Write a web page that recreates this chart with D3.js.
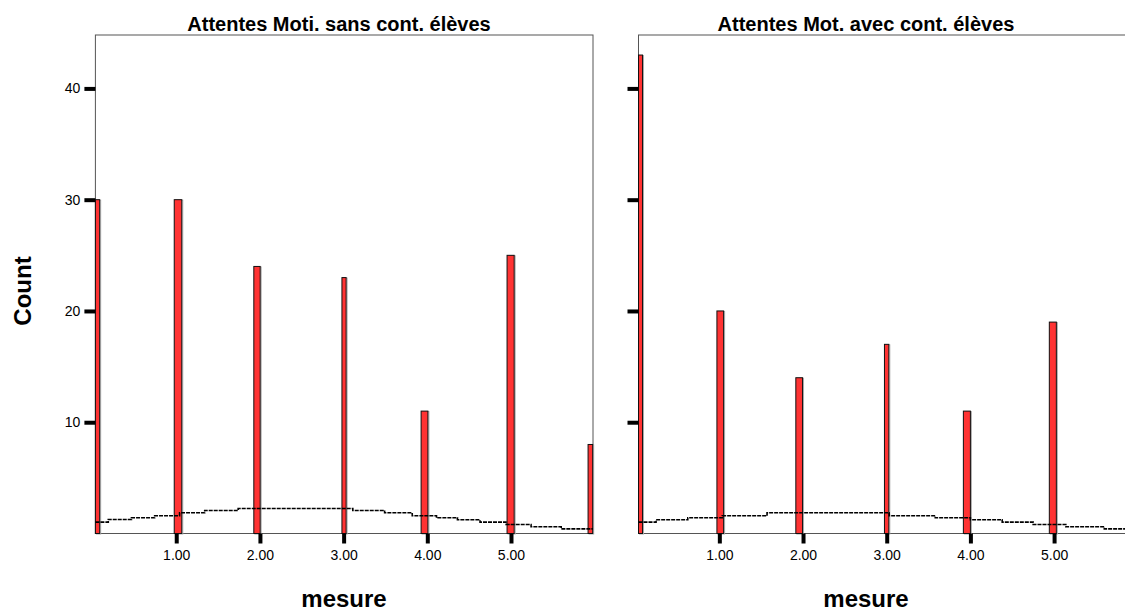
<!DOCTYPE html>
<html>
<head>
<meta charset="utf-8">
<script src="https://cdn.jsdelivr.net/npm/d3@7"></script>
<style>
  html, body { margin: 0; padding: 0; background: #fff; }
  svg { display: block; font-family: "Liberation Sans", Arial, sans-serif; }
</style>
</head>
<body>
<svg id="chart" width="1125" height="612"></svg>
<script>
// ---- data ----
const panelTitles = ["Attentes Moti. sans cont. élèves", "Attentes Mot. avec cont. élèves"];
const xTickValues = [1, 2, 3, 4, 5];
const yTickValues = [10, 20, 30, 40];
const xDomain = [0.034, 5.98];
const yDomain = [0, 44.8];

// histogram bins (start, end) and counts
const leftBinStart = [0.034, 0.976, 1.927, 2.980, 3.926, 4.953, 5.921];
const leftBinEnd   = [0.085, 1.066, 2.003, 3.030, 4.007, 5.038, 5.976];
const leftCounts   = [30, 30, 24, 23, 11, 25, 8];

const rightBinStart = [0.034, 0.971, 1.914, 2.973, 3.916, 4.943];
const rightBinEnd   = [0.082, 1.051, 1.994, 3.025, 4.000, 5.027];
const rightCounts   = [43, 20, 14, 17, 11, 19];

// normal curve (as drawn, step-like)
const leftCurveX = [0.034, 0.188, 0.465, 0.742, 1.04, 1.34, 1.74, 3.11, 3.49, 3.82, 4.11, 4.36, 4.63, 4.94, 5.24, 5.60, 5.98];
const leftCurveY = [1.02, 1.26, 1.41, 1.59, 1.86, 2.07, 2.25, 2.07, 1.86, 1.59, 1.41, 1.23, 1.02, 0.81, 0.60, 0.42, 0.42];
const rightCurveX = [0.034, 0.244, 0.623, 1.035, 1.57, 3.03, 3.58, 4.00, 4.38, 4.75, 5.14, 5.60, 5.98];
const rightCurveY = [1.02, 1.23, 1.41, 1.59, 1.86, 1.59, 1.41, 1.23, 1.02, 0.81, 0.60, 0.42, 0.42];

// ---- layout ----
const svg = d3.select("#chart");
const plotTop = 35, plotBottom = 533.5;
const panels = [
  { left: 95.4, right: 593, title: panelTitles[0], titleX: 339, xlabX: 344, labels: true,
    bs: leftBinStart, be: leftBinEnd, counts: leftCounts, cx: leftCurveX, cy: leftCurveY },
  { left: 638.5, right: 1136.1, title: panelTitles[1], titleX: 866, xlabX: 866, labels: false,
    bs: rightBinStart, be: rightBinEnd, counts: rightCounts, cx: rightCurveX, cy: rightCurveY }
];

const y = d3.scaleLinear().domain(yDomain).range([plotBottom, plotTop]);

panels.forEach(p => {
  const x = d3.scaleLinear().domain(xDomain).range([p.left, p.right]);
  const g = svg.append("g");

  // frame
  g.append("rect")
    .attr("x", p.left).attr("y", plotTop)
    .attr("width", p.right - p.left).attr("height", plotBottom - plotTop)
    .attr("fill", "none").attr("stroke", "#555").attr("stroke-width", 1);

  // bars
  const bars = p.counts.map((c, i) => ({ x0: p.bs[i], x1: p.be[i], c }));
  g.selectAll("rect.shadow").data(bars).enter().append("rect")
    .attr("class", "shadow")
    .attr("x", d => x(d.x0) + 1).attr("y", d => y(d.c) + 0.5)
    .attr("width", d => x(d.x1) - x(d.x0)).attr("height", d => y(0) - y(d.c))
    .attr("fill", "none").attr("stroke", "#aaa").attr("stroke-width", 1);
  g.selectAll("rect.bar").data(bars).enter().append("rect")
    .attr("class", "bar")
    .attr("x", d => x(d.x0)).attr("y", d => y(d.c))
    .attr("width", d => x(d.x1) - x(d.x0)).attr("height", d => y(0) - y(d.c))
    .attr("fill", "#ff3333").attr("stroke", "#111").attr("stroke-width", 1);

  // normal curve
  const pts = p.cx.map((v, i) => [v, p.cy[i]]);
  const line = d3.line().x(d => x(d[0])).y(d => y(d[1])).curve(d3.curveStepAfter);
  g.append("path").datum(pts)
    .attr("d", line).attr("fill", "none")
    .attr("stroke", "#000").attr("stroke-width", 1.6)
    .attr("stroke-dasharray", "4,1");

  // x axis
  const xa = g.append("g").attr("transform", `translate(0,${plotBottom})`)
    .call(d3.axisBottom(x).tickValues(xTickValues).tickFormat(d3.format(".2f"))
      .tickSizeInner(10).tickSizeOuter(0).tickPadding(7));
  xa.select(".domain").remove();
  xa.selectAll(".tick line").attr("stroke", "#000").attr("stroke-width", 4);
  xa.selectAll(".tick text").attr("font-size", 14).attr("fill", "#000")
    .attr("font-family", "Liberation Sans, Arial, sans-serif");

  // y axis
  const ya = g.append("g").attr("transform", `translate(${p.left},0)`)
    .call(d3.axisLeft(y).tickValues(yTickValues)
      .tickFormat(p.labels ? d3.format("d") : () => "")
      .tickSizeInner(11).tickSizeOuter(0).tickPadding(4));
  ya.select(".domain").remove();
  ya.selectAll(".tick line").attr("stroke", "#000").attr("stroke-width", 4);
  ya.selectAll(".tick text").attr("font-size", 14).attr("fill", "#000")
    .attr("font-family", "Liberation Sans, Arial, sans-serif");

  // title
  g.append("text").attr("x", p.titleX).attr("y", 31)
    .attr("text-anchor", "middle").attr("font-weight", "bold").attr("font-size", 20)
    .text(p.title);

  // x label
  g.append("text").attr("x", p.xlabX).attr("y", 607)
    .attr("text-anchor", "middle").attr("font-weight", "bold").attr("font-size", 24)
    .text("mesure");
});

// y label
svg.append("text")
  .attr("transform", "translate(31,291) rotate(-90)")
  .attr("text-anchor", "middle").attr("font-weight", "bold").attr("font-size", 24)
  .text("Count");
</script>
</body>
</html>
